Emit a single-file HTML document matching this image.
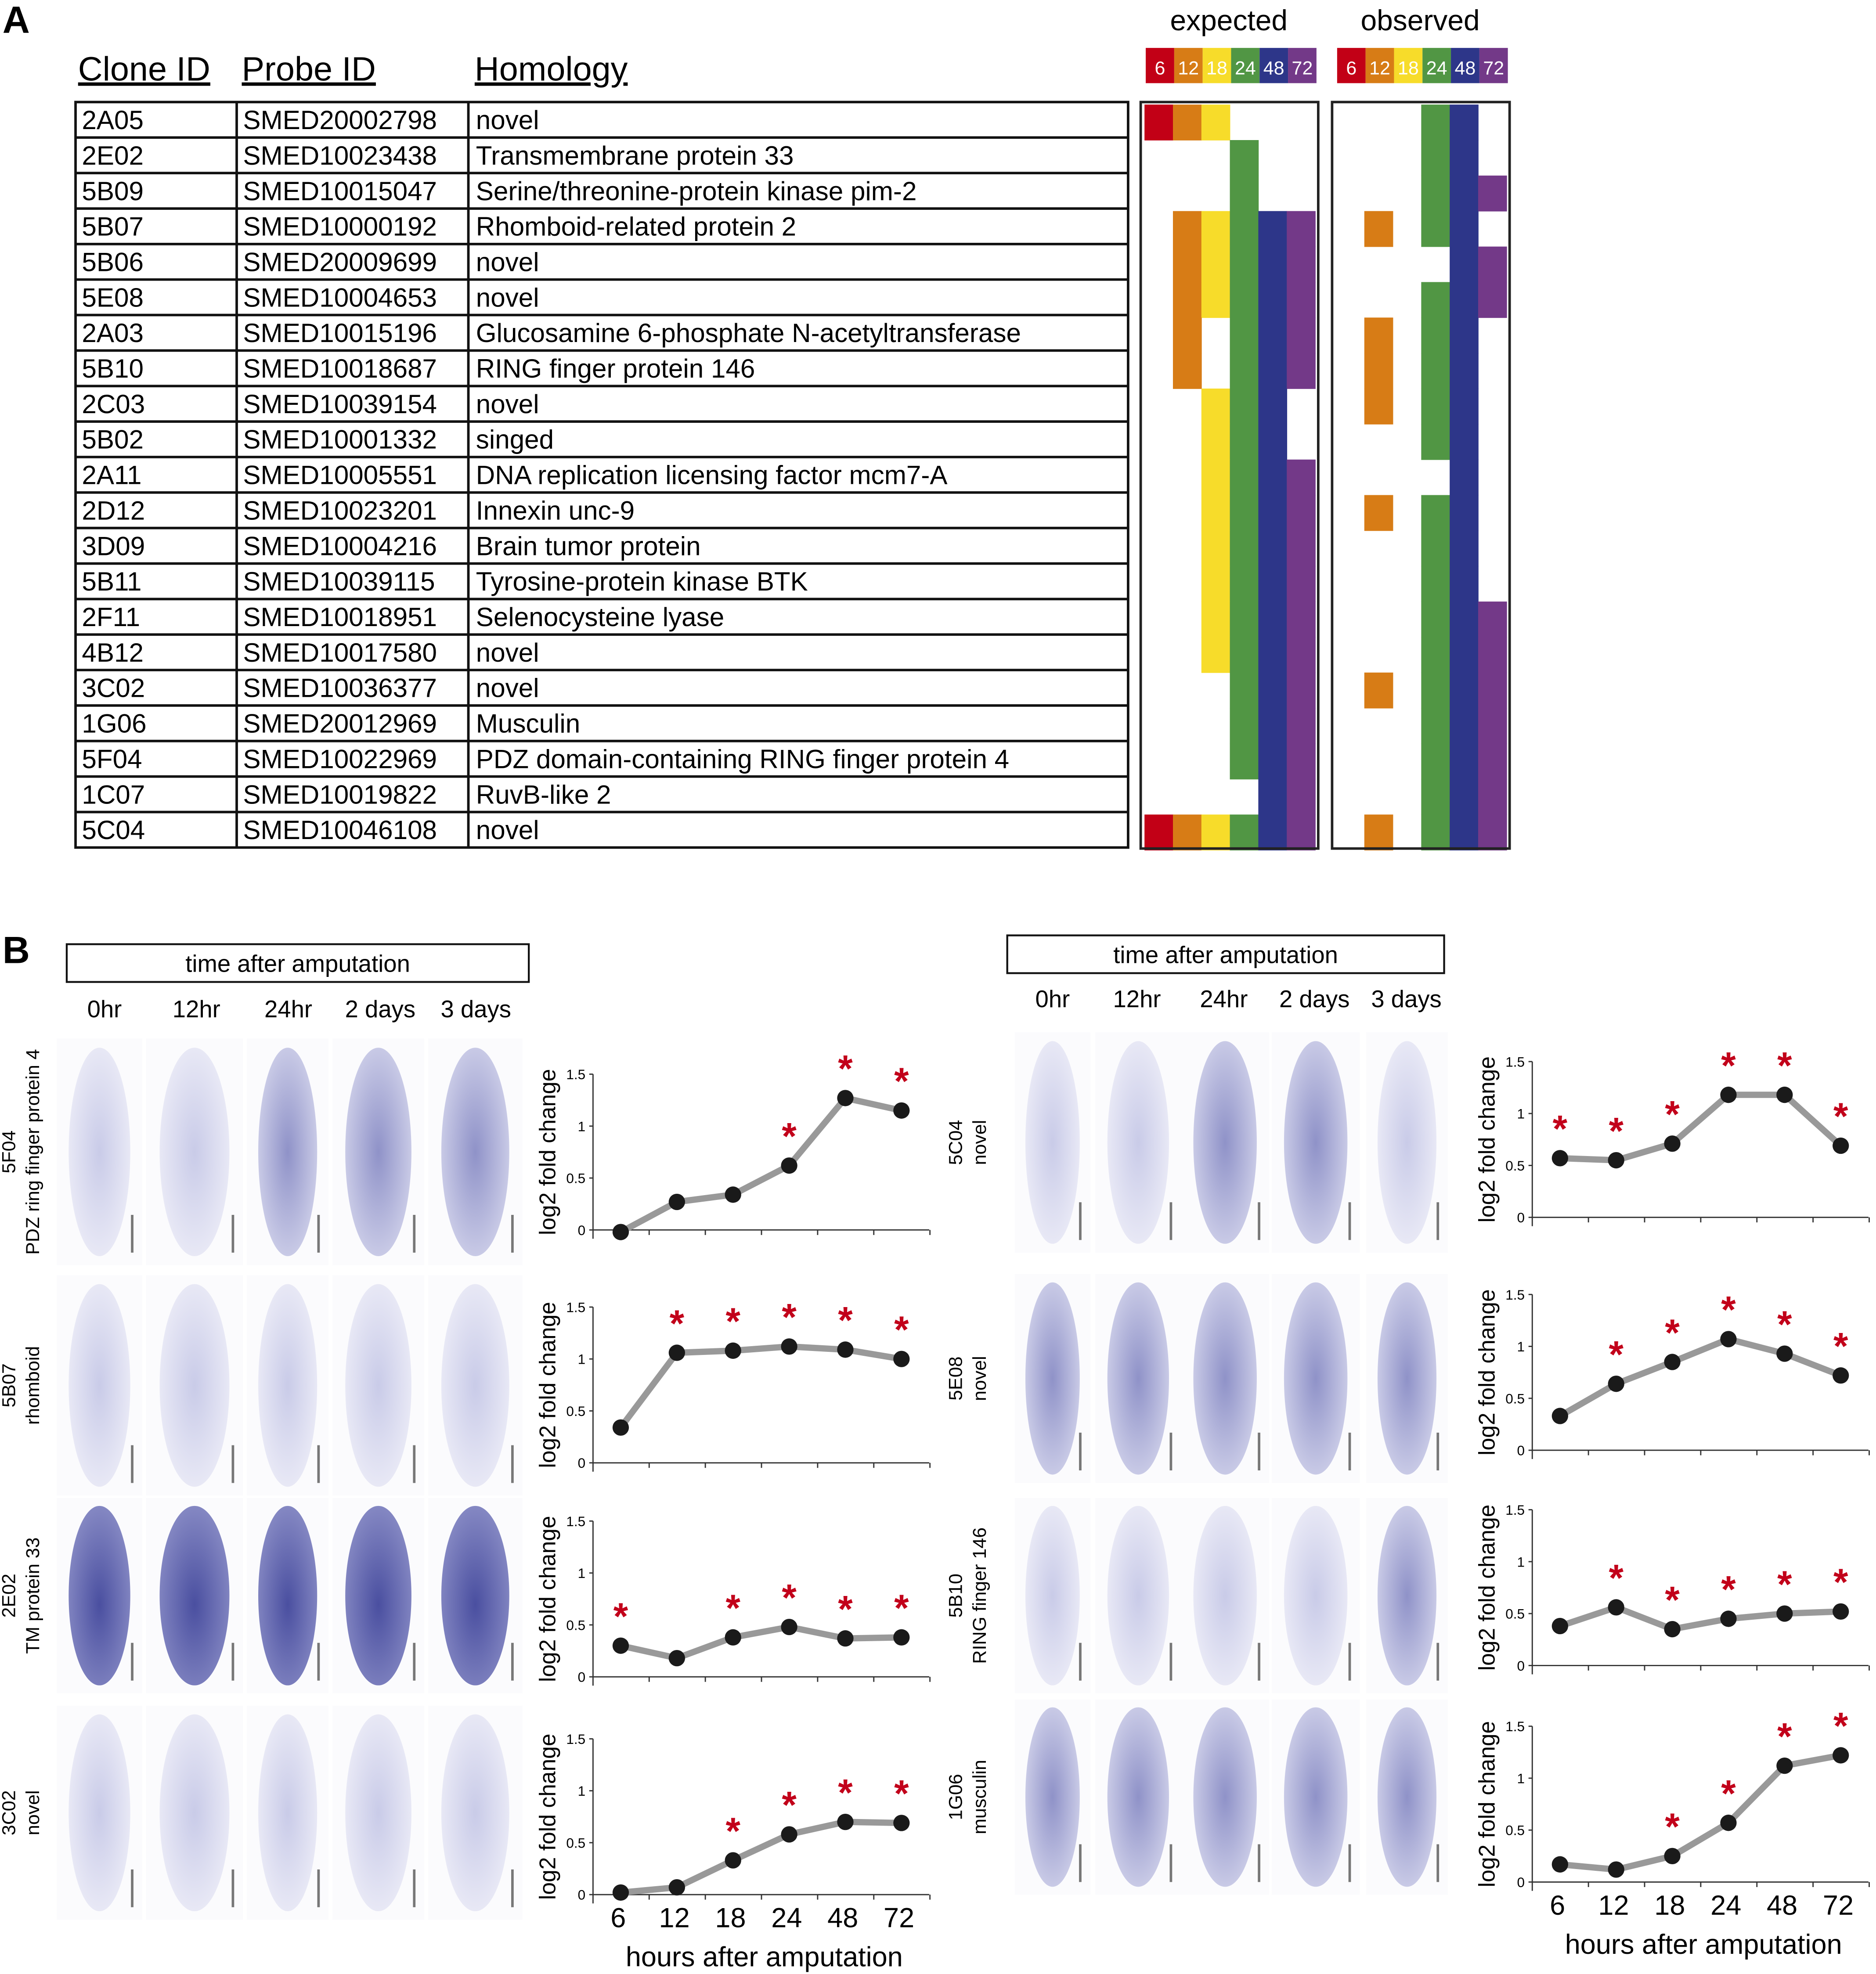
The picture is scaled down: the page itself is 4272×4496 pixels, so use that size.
<!DOCTYPE html>
<html><head><meta charset="utf-8"><style>
html,body{margin:0;padding:0;background:#fff}
svg{display:block}
text{font-family:"Liberation Sans",sans-serif}
</style></head><body>
<svg id="fig" xmlns="http://www.w3.org/2000/svg" width="4272" height="4496" viewBox="0 0 1490 1568">
<defs>
<radialGradient id="wl" cx="50%" cy="50%" r="60%"><stop offset="0" stop-color="#c9cbe8"/><stop offset="1" stop-color="#eeeef8"/></radialGradient>
<radialGradient id="wm" cx="50%" cy="50%" r="60%"><stop offset="0" stop-color="#8f92c8"/><stop offset="1" stop-color="#d4d5ec"/></radialGradient>
<radialGradient id="wd" cx="50%" cy="55%" r="60%"><stop offset="0" stop-color="#4a4fa0"/><stop offset="1" stop-color="#8a8dc6"/></radialGradient>
</defs>
<text x="2" y="26" font-size="30" font-weight="bold">A</text>
<text x="2" y="765" font-size="30" font-weight="bold">B</text>
<g id="tbl"></g>
<g id="mat"></g>
<g id="pb"></g>
</svg>
<script>
const NS="http://www.w3.org/2000/svg";
const clones=["2A05","2E02","5B09","5B07","5B06","5E08","2A03","5B10","2C03","5B02","2A11","2D12","3D09","5B11","2F11","4B12","3C02","1G06","5F04","1C07","5C04"];
const probes=["SMED20002798","SMED10023438","SMED10015047","SMED10000192","SMED20009699","SMED10004653","SMED10015196","SMED10018687","SMED10039154","SMED10001332","SMED10005551","SMED10023201","SMED10004216","SMED10039115","SMED10018951","SMED10017580","SMED10036377","SMED20012969","SMED10022969","SMED10019822","SMED10046108"];
const homology=["novel","Transmembrane protein 33","Serine/threonine-protein kinase pim-2","Rhomboid-related protein 2","novel","novel","Glucosamine 6-phosphate N-acetyltransferase","RING finger protein 146","novel","singed","DNA replication licensing factor mcm7-A","Innexin unc-9","Brain tumor protein","Tyrosine-protein kinase BTK","Selenocysteine lyase","novel","novel","Musculin","PDZ domain-containing RING finger protein 4","RuvB-like 2","novel"];
const timeLabels=["6","12","18","24","48","72"];
const timeColors=["#c20016","#d77c16","#f7dc2a","#519644","#2d3689","#733988"];
const expected=["111000","000100","000100","011111","011111","011111","010111","010111","001110","001110","001111","001111","001111","001111","001111","001111","000111","000111","000111","000011","111111"];
const observed=["000110","000110","000111","010110","000011","000111","010110","010110","010110","000110","000010","010110","000110","000110","000111","000111","010111","000111","000111","000111","010111"];

function mk(tag,attrs,parent,txt){const e=document.createElementNS(NS,tag);for(const k in attrs)e.setAttribute(k,attrs[k]);if(txt!==undefined)e.textContent=txt;parent.appendChild(e);return e;}

const tbl=document.getElementById('tbl');
const T0=81,RH=28.2;
[["Clone ID",62],["Probe ID",192],["Homology",377]].forEach(([t,x])=>{
  const e=mk('text',{x:x,y:64,'font-size':27,'text-decoration':'underline'},tbl,t);
  
  
});
const tb=mk('rect',{x:60,y:T0,width:836,height:RH*21,fill:'none',stroke:'#111','stroke-width':2},tbl);

[188,372].forEach(x=>mk('line',{x1:x,y1:T0,x2:x,y2:T0+RH*21,stroke:'#111','stroke-width':2},tbl));
clones.forEach((c,i)=>{
  const y=T0+RH*i;
  if(i>0)mk('line',{x1:60,y1:y,x2:896,y2:y,stroke:'#111','stroke-width':2},tbl);
  const g=mk('g',{},tbl);
  
  
  mk('text',{x:65,y:y+21.5,'font-size':21},g,c);
  mk('text',{x:193,y:y+21.5,'font-size':21},g,probes[i]);
  mk('text',{x:378,y:y+21.5,'font-size':21},g,homology[i]);
});

const mat=document.getElementById('mat');
function matrix(x0,title,data,name){
  const g=mk('g',{},mat);
  
  
  const cw=22.6;
  mk('text',{x:x0+70,y:24,'font-size':23,'text-anchor':'middle'},g,title);
  timeLabels.forEach((t,j)=>{
    mk('rect',{x:x0+4+cw*j,y:38,width:cw,height:28,fill:timeColors[j]},g);
    mk('text',{x:x0+4+cw*j+cw/2,y:59,'font-size':15,fill:'#fff','text-anchor':'middle'},g,t);
  });
  data.forEach((r,i)=>{for(let j=0;j<6;j++)if(r[j]==='1')mk('rect',{x:x0+3+cw*j,y:T0+2+RH*i,width:cw+0.3,height:RH+0.3,fill:timeColors[j]},g);});
  mk('rect',{x:x0,y:T0,width:141,height:593,fill:'none',stroke:'#222','stroke-width':2},g);
}
matrix(906,'expected',expected,'expected-matrix');
matrix(1058,'observed',observed,'observed-matrix');

const pb=document.getElementById('pb');
const xCats=["6","12","18","24","48","72"];
const yTicks=[0,0.5,1,1.5];
const v5F04=[-0.02,0.27,0.34,0.62,1.27,1.15], s5F04=[0,0,0,1,1,1];
const v5B07=[0.34,1.06,1.08,1.12,1.09,1.0], s5B07=[0,1,1,1,1,1];
const v2E02=[0.3,0.18,0.38,0.48,0.37,0.38], s2E02=[1,0,1,1,1,1];
const v3C02=[0.02,0.07,0.33,0.58,0.7,0.69], s3C02=[0,0,1,1,1,1];
const v5C04=[0.57,0.55,0.71,1.18,1.18,0.69], s5C04=[1,1,1,1,1,1];
const v5E08=[0.33,0.64,0.85,1.07,0.93,0.72], s5E08=[0,1,1,1,1,1];
const v5B10=[0.38,0.56,0.35,0.45,0.5,0.52], s5B10=[0,1,1,1,1,1];
const v1G06=[0.17,0.12,0.25,0.57,1.12,1.22], s1G06=[0,0,1,1,1,1];

function chart(ax,y0,values,stars,name,ticksBelow){
  const g=mk('g',{},pb);
  
  
  const unit=82.5;
  const ys=v=>y0-v*unit;
  const xs=i=>ax+22+i*44.6;
  const xend=ax+267;
  mk('line',{x1:ax,y1:ys(1.5),x2:ax,y2:y0+7,stroke:'#333','stroke-width':1},g);
  mk('line',{x1:ax,y1:y0,x2:xend,y2:y0,stroke:'#333','stroke-width':1},g);
  yTicks.forEach(t=>{mk('line',{x1:ax-3,y1:ys(t),x2:ax,y2:ys(t),stroke:'#333'},g);
    mk('text',{x:ax-6,y:ys(t)+4,'font-size':11,'text-anchor':'end'},g,String(t));});
  for(let i=1;i<=6;i++)mk('line',{x1:ax+i*44.6,y1:y0,x2:ax+i*44.6,y2:y0+4,stroke:'#333'},g);
  const yl=mk('text',{x:0,y:0,'font-size':18,'text-anchor':'middle',transform:`translate(${ax-30},${ys(0.75)}) rotate(-90)`},g,'log2 fold change');
  
  const pts=values.map((v,i)=>xs(i)+','+ys(v)).join(' ');
  const ln=mk('polyline',{points:pts,fill:'none',stroke:'#999','stroke-width':5},g);
  
  values.forEach((v,i)=>{
    const c=mk('circle',{cx:xs(i),cy:ys(v),r:6.5,fill:'#1a1a1a'},g);
    
    
    if(stars[i]){const s=mk('text',{x:xs(i),y:ys(Math.max(v,0))-13,'font-size':30,'font-weight':'bold',fill:'#c2001a','text-anchor':'middle'},g,'*');
      }
  });
  if(ticksBelow){
    xCats.forEach((c,i)=>mk('text',{x:xs(i)-2,y:y0+26,'font-size':22,'text-anchor':'middle'},g,c));
    const xt=mk('text',{x:ax+136,y:y0+57,'font-size':22,'text-anchor':'middle'},g,'hours after amputation');
    
  }
}
chart(471,977,v5F04,s5F04,'chart-5F04',false);
chart(471,1162,v5B07,s5B07,'chart-5B07',false);
chart(471,1332,v2E02,s2E02,'chart-2E02',false);
chart(471,1505,v3C02,s3C02,'chart-3C02',true);
chart(1217,967,v5C04,s5C04,'chart-5C04',false);
chart(1217,1152,v5E08,s5E08,'chart-5E08',false);
chart(1217,1323,v5B10,s5B10,'chart-5B10',false);
chart(1217,1495,v1G06,s1G06,'chart-1G06',true);

function header(x,y,w,cols,colY,name){
  const g=mk('g',{},pb);
  
  
  mk('rect',{x:x,y:y,width:w,height:30,fill:'none',stroke:'#111','stroke-width':1.5},g);
  mk('text',{x:x+w/2,y:y+22,'font-size':19,'text-anchor':'middle'},g,'time after amputation');
  ["0hr","12hr","24hr","2 days","3 days"].forEach((t,i)=>mk('text',{x:cols[i],y:colY,'font-size':19,'text-anchor':'middle'},g,t));
}
header(53,750,367,[83,156,229,302,378],808,'left-time-header');
header(800,743,347,[836,903,972,1044,1117],800,'right-time-header');

function worms(xs,ys,fills,labels,lx){
  ys.forEach((r,ri)=>{
    const [y1,y2]=r;
    const lab=mk('g',{},pb);
    
    
    const cy=(y1+y2)/2;
    mk('text',{x:0,y:0,'font-size':15,'text-anchor':'middle',transform:`translate(${lx},${cy}) rotate(-90)`},lab,labels[ri][0]);
    mk('text',{x:0,y:0,'font-size':15,'text-anchor':'middle',transform:`translate(${lx+19},${cy}) rotate(-90)`},lab,labels[ri][1]);
    xs.forEach((c,ci)=>{
      const [x1,x2]=c;
      const g=mk('g',{},pb);
      
      
      mk('rect',{x:x1,y:y1,width:x2-x1,height:y2-y1,fill:'#fbfbfd'},g);
      const f=fills[ri][ci];
      mk('ellipse',{cx:(x1+x2)/2,cy:cy,rx:(x2-x1)*0.36,ry:(y2-y1)*0.46,fill:'url(#'+f+')'},g);
      mk('line',{x1:x2-8,y1:y2-40,x2:x2-8,y2:y2-10,stroke:'#777','stroke-width':2},g);
    });
  });
}
worms([[45,113],[116,193],[196,261],[264,337],[340,415]],[[825,1005],[1013,1188],[1190,1345],[1355,1525]],
 [["wl","wl","wm","wm","wm"],["wl","wl","wl","wl","wl"],["wd","wd","wd","wd","wd"],["wl","wl","wl","wl","wl"]],
 [["5F04","PDZ ring finger protein 4"],["5B07","rhomboid"],["2E02","TM protein 33"],["3C02","novel"]],12);
worms([[806,866],[870,938],[938,1008],[1010,1080],[1085,1150]],[[820,995],[1012,1178],[1190,1345],[1350,1505]],
 [["wl","wl","wm","wm","wl"],["wm","wm","wm","wm","wm"],["wl","wl","wl","wl","wm"],["wm","wm","wm","wm","wm"]],
 [["5C04","novel"],["5E08","novel"],["5B10","RING finger 146"],["1G06","musculin"]],764);
</script>
</body></html>
